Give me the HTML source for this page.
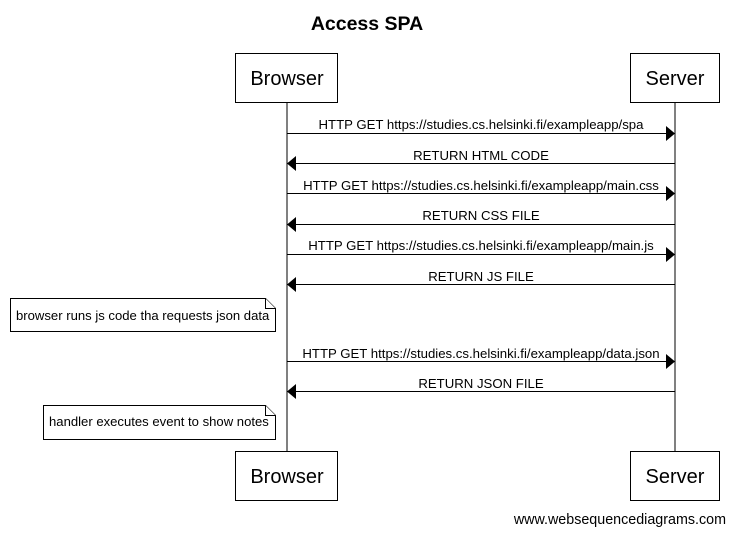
<!DOCTYPE html>
<html><head><style>body{margin:0;background:#fff}</style></head><body>
<svg width="734" height="534" xmlns="http://www.w3.org/2000/svg" font-family="Liberation Sans, sans-serif">
<rect width="734" height="534" fill="#fff"/>
<text x="367" y="30" font-size="19.5" font-weight="bold" text-anchor="middle">Access SPA</text>
<g stroke="#000" fill="#fff">
<line x1="287" y1="102" x2="287" y2="451"/>
<line x1="675" y1="102" x2="675" y2="451"/>
<rect x="235.5" y="53.5" width="102" height="49"/>
<rect x="630.5" y="53.5" width="89" height="49"/>
<rect x="235.5" y="451.5" width="102" height="49"/>
<rect x="630.5" y="451.5" width="89" height="49"/>
<path d="M10.5 298.5H265.5L275.5 308.5V331.5H10.5Z"/>
<path d="M265.5 298.5V308.5H275.5"/>
<path d="M43.5 405.5H265.5L275.5 415.5V439.5H43.5Z"/>
<path d="M265.5 405.5V415.5H275.5"/>
</g>
<g font-size="20" text-anchor="middle">
<text x="287" y="85">Browser</text><text x="675" y="85">Server</text>
<text x="287" y="483">Browser</text><text x="675" y="483">Server</text>
</g>
<g font-size="13.1">
<text x="16" y="320">browser runs js code tha requests json data</text>
<text x="49" y="426">handler executes event to show notes</text>
</g>
<g stroke="#000">
<line x1="287" y1="133.5" x2="667" y2="133.5"/><line x1="295" y1="163.5" x2="675" y2="163.5"/>
<line x1="287" y1="193.5" x2="667" y2="193.5"/><line x1="295" y1="224.5" x2="675" y2="224.5"/>
<line x1="287" y1="254.5" x2="667" y2="254.5"/><line x1="295" y1="284.5" x2="675" y2="284.5"/>
<line x1="287" y1="361.5" x2="667" y2="361.5"/><line x1="295" y1="391.5" x2="675" y2="391.5"/>
</g>
<g fill="#000">
<path d="M675 133.5L666 126V141Z"/><path d="M287 163.5L296 156V171Z"/>
<path d="M675 193.5L666 186V201Z"/><path d="M287 224.5L296 217V232Z"/>
<path d="M675 254.5L666 247V262Z"/><path d="M287 284.5L296 277V292Z"/>
<path d="M675 361.5L666 354V369Z"/><path d="M287 391.5L296 384V399Z"/>
</g>
<g font-size="13.2" text-anchor="middle">
<text x="481" y="129">HTTP GET https://studies.cs.helsinki.fi/exampleapp/spa</text>
<text x="481" y="160">RETURN HTML CODE</text>
<text x="481" y="190">HTTP GET https://studies.cs.helsinki.fi/exampleapp/main.css</text>
<text x="481" y="220">RETURN CSS FILE</text>
<text x="481" y="250">HTTP GET https://studies.cs.helsinki.fi/exampleapp/main.js</text>
<text x="481" y="281">RETURN JS FILE</text>
<text x="481" y="358">HTTP GET https://studies.cs.helsinki.fi/exampleapp/data.json</text>
<text x="481" y="388">RETURN JSON FILE</text>
</g>
<text x="726" y="524" font-size="14.3" text-anchor="end">www.websequencediagrams.com</text>
</svg>
</body></html>
